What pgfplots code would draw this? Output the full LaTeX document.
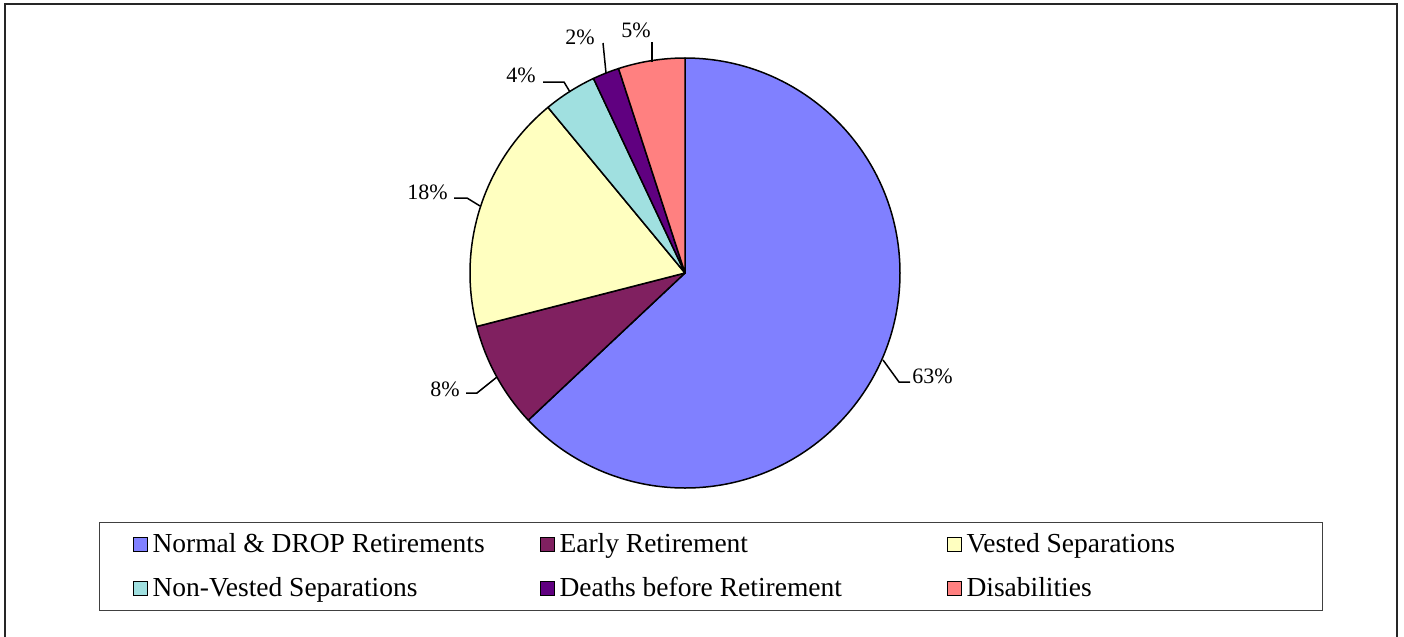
\documentclass[border=0pt]{standalone}
\usepackage{fontspec}
\setmainfont{Liberation Serif}
\usepackage{pgfplots}
\usepackage{pgfplotstable}
\pgfplotsset{compat=1.18}

\definecolor{pie0}{HTML}{8080FF}
\definecolor{pie1}{HTML}{802060}
\definecolor{pie2}{HTML}{FFFFC0}
\definecolor{pie3}{HTML}{A0E0E0}
\definecolor{pie4}{HTML}{600080}
\definecolor{pie5}{HTML}{FF8080}

\pgfplotstableread{
name pct
Normal 63
Early 8
Vested 18
NonVested 4
Deaths 2
Disab 5
}\piedata

\begin{document}
\begin{tikzpicture}
\useasboundingbox (0,0) rectangle (702pt,-318.5pt);
\begin{scope}[x=0.5pt,y=-0.5pt]
  \draw[black!85, line width=1pt] (5,4) rectangle (1397,660);
\end{scope}
\begin{axis}[
  at={(342.5pt,-136.5pt)}, anchor=center,
  width=215pt, height=215pt, scale only axis,
  xmin=-1, xmax=1, ymin=-1, ymax=1,
  hide axis, clip=false,
  legend columns=3,
  legend cell align=left,
  legend image code/.code={\draw[#1] (0pt,-3.5pt) rectangle (7pt,3.5pt);},
  legend style={at={(0.5605,-0.1826)}, anchor=center,
    draw=black!75, line width=0.5pt,
    inner xsep=16.5pt, inner ysep=0pt,
    column sep=0pt, row sep=0pt,
    font=\fontsize{13.75}{16}\selectfont,
    nodes={inner sep=0pt, text height=15pt, text depth=7pt}},
]
\pgfplotsextra{%
  \gdef\cumangle{90}%
  \foreach \i in {0,...,5}{%
    \pgfplotstablegetelem{\i}{pct}\of\piedata
    \pgfmathsetmacro\sweep{\pgfplotsretval*3.6}%
    \pgfmathsetmacro\endangle{\cumangle-\sweep}%
    \filldraw[fill=pie\i, draw=black, line width=0.75pt, line join=round]
      (axis cs:0,0) -- (axis cs:{cos(\cumangle)},{sin(\cumangle)})
      arc[start angle=\cumangle, end angle=\endangle, radius=107.5pt] -- cycle;
    \xdef\cumangle{\endangle}%
  }%
}
\addlegendimage{fill=pie0, draw=black, line width=0.5pt}
\addlegendentry{\hspace*{2.5pt}\makebox[193.5pt][l]{Normal \& DROP Retirements}}
\addlegendimage{fill=pie1, draw=black, line width=0.5pt}
\addlegendentry{\hspace*{2.5pt}\makebox[193.5pt][l]{Early Retirement}}
\addlegendimage{fill=pie2, draw=black, line width=0.5pt}
\addlegendentry{\hspace*{2.5pt}\makebox[161.5pt][l]{Vested Separations}}
\addlegendimage{fill=pie3, draw=black, line width=0.5pt}
\addlegendentry{\hspace*{2.5pt}\makebox[193.5pt][l]{Non-Vested Separations}}
\addlegendimage{fill=pie4, draw=black, line width=0.5pt}
\addlegendentry{\hspace*{2.5pt}\makebox[193.5pt][l]{Deaths before Retirement}}
\addlegendimage{fill=pie5, draw=black, line width=0.5pt}
\addlegendentry{\hspace*{2.5pt}\makebox[161.5pt][l]{Disabilities}}
\end{axis}
\begin{scope}[x=0.5pt,y=-0.5pt, font=\fontsize{11}{13}\selectfont]
  \draw[line width=0.75pt] (883,360) -- (899,382) -- (910,382);
  \node[anchor=base west, inner sep=0pt] at (912,383) {63\%};
  \draw[line width=0.75pt] (497,377) -- (477,393) -- (466,393);
  \node[anchor=base east, inner sep=0pt] at (460,396) {8\%};
  \draw[line width=0.75pt] (480,206) -- (467,198) -- (454,198);
  \node[anchor=base east, inner sep=0pt] at (448,199) {18\%};
  \draw[line width=0.75pt] (570,92) -- (564,82) -- (543,82);
  \node[anchor=base east, inner sep=0pt] at (536,83) {4\%};
  \draw[line width=0.75pt] (606,73) -- (603,43);
  \node[anchor=base east, inner sep=0pt] at (595,45) {2\%};
  \draw[line width=0.75pt] (652,62) -- (652,42);
  \node[anchor=base east, inner sep=0pt] at (651,38) {5\%};
\end{scope}
\end{tikzpicture}
\end{document}
